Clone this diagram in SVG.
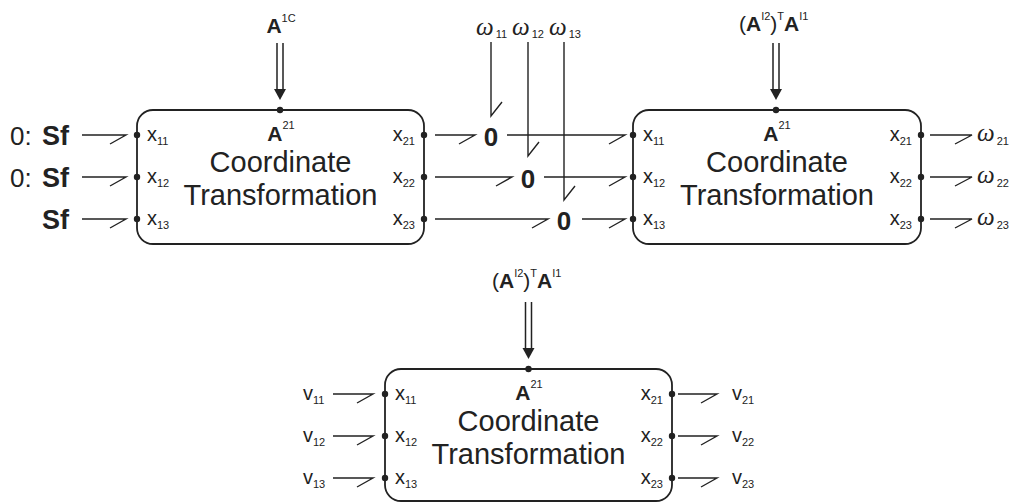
<svg xmlns="http://www.w3.org/2000/svg" width="1010" height="503" viewBox="0 0 1010 503">
<defs>
<style>
.ln{stroke:#222;stroke-width:1.4;fill:none}
.dl{stroke:#222;stroke-width:1.5;fill:none}
.box{stroke:#222;stroke-width:1.8;fill:#fff}
.dot{fill:#222}
.ah{fill:#222}
text{font-family:"Liberation Sans",Arial,sans-serif;fill:#222}
.big{font-size:29px}
.x{font-size:20px}
.sub{font-size:11px}
.b{font-weight:bold}
.sf{font-size:26px}
.sfb{font-size:27px;font-weight:bold}
.z{font-size:26px;font-weight:bold;text-anchor:middle}
.A{font-size:21px}
.w{font-family:"Liberation Serif","Times New Roman",serif;font-style:italic;font-size:25px}
.ws{font-family:"Liberation Sans",Arial,sans-serif;font-style:normal;font-size:11px}
.end{text-anchor:end}
.mid{text-anchor:middle}
</style>
</defs>
<rect width="1010" height="503" fill="#fff"/>

<!-- connectors -->
<g id="connectors">
  <!-- sources to block 1 -->
  <path class="ln" d="M82,135 H126 L110,144"/>
  <path class="ln" d="M82,177 H126 L110,186"/>
  <path class="ln" d="M82,219 H126 L110,228"/>
  <!-- block1 to zero junctions -->
  <path class="ln" d="M435,135 H475 L459,144"/>
  <path class="ln" d="M435,177 H512 L496,186"/>
  <path class="ln" d="M435,219 H548 L532,228"/>
  <!-- zero junctions to block 2 -->
  <path class="ln" d="M507,135 H625 L609,144"/>
  <path class="ln" d="M544,177 H625 L609,186"/>
  <path class="ln" d="M582,219 H625 L609,228"/>
  <!-- omega inputs to zero junctions -->
  <path class="ln" d="M491,42 V116 L502,102"/>
  <path class="ln" d="M528,42 V156 L539,142"/>
  <path class="ln" d="M564,42 V200 L575,186"/>
  <!-- block 2 outputs -->
  <path class="ln" d="M930,135 H972 L955,144"/>
  <path class="ln" d="M930,177 H972 L955,186"/>
  <path class="ln" d="M930,219 H972 L955,228"/>
  <!-- bottom block -->
  <path class="ln" d="M333,394 H373 L357,403"/>
  <path class="ln" d="M333,436 H373 L357,445"/>
  <path class="ln" d="M333,478 H373 L357,487"/>
  <path class="ln" d="M678,394 H717 L701,403"/>
  <path class="ln" d="M678,436 H717 L701,445"/>
  <path class="ln" d="M678,478 H717 L701,487"/>
  <!-- double arrows (modulation) -->
  <path class="dl" d="M277,43 V90 M283,43 V90"/>
  <polygon class="ah" points="274,89 286,89 280,100"/>
  <path class="dl" d="M773,43 V90 M779,43 V90"/>
  <polygon class="ah" points="770,89 782,89 776,100"/>
  <path class="dl" d="M525.5,302 V349 M531.5,302 V349"/>
  <polygon class="ah" points="522.5,348 534.5,348 528.5,359"/>
</g>

<!-- sources -->
<g id="src1"><text class="sf" x="10" y="145">0:</text><text class="sfb" x="42" y="145">Sf</text></g>
<g id="src2"><text class="sf" x="10" y="187">0:</text><text class="sfb" x="42" y="187">Sf</text></g>
<g id="src3"><text class="sfb" x="42" y="229">Sf</text></g>

<!-- modulation labels -->
<g id="mod1"><text class="A mid" x="281" y="33"><tspan class="b">A</tspan><tspan class="sub" dy="-11">1C</tspan></text></g>
<g id="mod2"><text class="A" x="739" y="31">(<tspan class="b">A</tspan><tspan class="sub" dy="-11">I2</tspan><tspan dy="11">)</tspan><tspan class="sub" dy="-11">T</tspan><tspan class="b" dy="11">A</tspan><tspan class="sub" dy="-11">I1</tspan></text></g>
<g id="mod3"><text class="A" x="492" y="288">(<tspan class="b">A</tspan><tspan class="sub" dy="-11">I2</tspan><tspan dy="11">)</tspan><tspan class="sub" dy="-11">T</tspan><tspan class="b" dy="11">A</tspan><tspan class="sub" dy="-11">I1</tspan></text></g>

<!-- omega inputs -->
<g id="w11"><text class="w" x="476" y="35">ω<tspan class="ws" dy="3" dx="2">11</tspan></text></g>
<g id="w12"><text class="w" x="512" y="35">ω<tspan class="ws" dy="3" dx="2">12</tspan></text></g>
<g id="w13"><text class="w" x="549" y="35">ω<tspan class="ws" dy="3" dx="2">13</tspan></text></g>

<!-- zero junctions -->
<g id="zero1"><text class="z" x="491" y="146">0</text></g>
<g id="zero2"><text class="z" x="528" y="188">0</text></g>
<g id="zero3"><text class="z" x="564" y="230">0</text></g>

<!-- block 1 -->
<g id="block1">
  <rect class="box" x="137" y="110" width="287" height="134" rx="16"/>
  <circle class="dot" cx="280" cy="110" r="3.2"/>
  <circle class="dot" cx="137" cy="135" r="3.2"/><circle class="dot" cx="137" cy="177" r="3.2"/><circle class="dot" cx="137" cy="219" r="3.2"/>
  <circle class="dot" cx="424" cy="135" r="3.2"/><circle class="dot" cx="424" cy="177" r="3.2"/><circle class="dot" cx="424" cy="219" r="3.2"/>
  <text class="A mid" x="281" y="141"><tspan class="b">A</tspan><tspan class="sub" dy="-12">21</tspan></text>
  <text class="big mid" x="280.5" y="172">Coordinate</text>
  <text class="big mid" x="280.5" y="205">Transformation</text>
  <text class="x" x="147" y="141">x<tspan class="sub" dy="4">11</tspan></text>
  <text class="x" x="147" y="183">x<tspan class="sub" dy="4">12</tspan></text>
  <text class="x" x="147" y="225">x<tspan class="sub" dy="4">13</tspan></text>
  <text class="x end" x="415" y="141">x<tspan class="sub" dy="4">21</tspan></text>
  <text class="x end" x="415" y="183">x<tspan class="sub" dy="4">22</tspan></text>
  <text class="x end" x="415" y="225">x<tspan class="sub" dy="4">23</tspan></text>
</g>

<!-- block 2 -->
<g id="block2">
  <rect class="box" x="633" y="110" width="288" height="134" rx="16"/>
  <circle class="dot" cx="776" cy="110" r="3.2"/>
  <circle class="dot" cx="633" cy="135" r="3.2"/><circle class="dot" cx="633" cy="177" r="3.2"/><circle class="dot" cx="633" cy="219" r="3.2"/>
  <circle class="dot" cx="921" cy="135" r="3.2"/><circle class="dot" cx="921" cy="177" r="3.2"/><circle class="dot" cx="921" cy="219" r="3.2"/>
  <text class="A mid" x="777" y="141"><tspan class="b">A</tspan><tspan class="sub" dy="-12">21</tspan></text>
  <text class="big mid" x="777" y="172">Coordinate</text>
  <text class="big mid" x="777" y="205">Transformation</text>
  <text class="x" x="643" y="141">x<tspan class="sub" dy="4">11</tspan></text>
  <text class="x" x="643" y="183">x<tspan class="sub" dy="4">12</tspan></text>
  <text class="x" x="643" y="225">x<tspan class="sub" dy="4">13</tspan></text>
  <text class="x end" x="912" y="141">x<tspan class="sub" dy="4">21</tspan></text>
  <text class="x end" x="912" y="183">x<tspan class="sub" dy="4">22</tspan></text>
  <text class="x end" x="912" y="225">x<tspan class="sub" dy="4">23</tspan></text>
</g>

<!-- block 2 outputs -->
<g id="w21"><text class="w" x="977" y="141">ω<tspan class="ws" dy="4" dx="2">21</tspan></text></g>
<g id="w22"><text class="w" x="977" y="183">ω<tspan class="ws" dy="4" dx="2">22</tspan></text></g>
<g id="w23"><text class="w" x="977" y="225">ω<tspan class="ws" dy="4" dx="2">23</tspan></text></g>

<!-- block 3 -->
<g id="block3">
  <rect class="box" x="385" y="369" width="287" height="132" rx="16"/>
  <circle class="dot" cx="528.5" cy="369" r="3.2"/>
  <circle class="dot" cx="385" cy="394" r="3.2"/><circle class="dot" cx="385" cy="436" r="3.2"/><circle class="dot" cx="385" cy="478" r="3.2"/>
  <circle class="dot" cx="672" cy="394" r="3.2"/><circle class="dot" cx="672" cy="436" r="3.2"/><circle class="dot" cx="672" cy="478" r="3.2"/>
  <text class="A mid" x="529" y="400"><tspan class="b">A</tspan><tspan class="sub" dy="-12">21</tspan></text>
  <text class="big mid" x="528.5" y="431">Coordinate</text>
  <text class="big mid" x="528.5" y="464">Transformation</text>
  <text class="x" x="395" y="400">x<tspan class="sub" dy="4">11</tspan></text>
  <text class="x" x="395" y="442">x<tspan class="sub" dy="4">12</tspan></text>
  <text class="x" x="395" y="484">x<tspan class="sub" dy="4">13</tspan></text>
  <text class="x end" x="663" y="400">x<tspan class="sub" dy="4">21</tspan></text>
  <text class="x end" x="663" y="442">x<tspan class="sub" dy="4">22</tspan></text>
  <text class="x end" x="663" y="484">x<tspan class="sub" dy="4">23</tspan></text>
</g>

<!-- bottom inputs/outputs -->
<g id="v11"><text class="x" x="303" y="400">v<tspan class="sub" dy="4">11</tspan></text></g>
<g id="v12"><text class="x" x="303" y="442">v<tspan class="sub" dy="4">12</tspan></text></g>
<g id="v13"><text class="x" x="303" y="484">v<tspan class="sub" dy="4">13</tspan></text></g>
<g id="v21"><text class="x" x="732" y="400">v<tspan class="sub" dy="4">21</tspan></text></g>
<g id="v22"><text class="x" x="732" y="442">v<tspan class="sub" dy="4">22</tspan></text></g>
<g id="v23"><text class="x" x="732" y="484">v<tspan class="sub" dy="4">23</tspan></text></g>
</svg>
